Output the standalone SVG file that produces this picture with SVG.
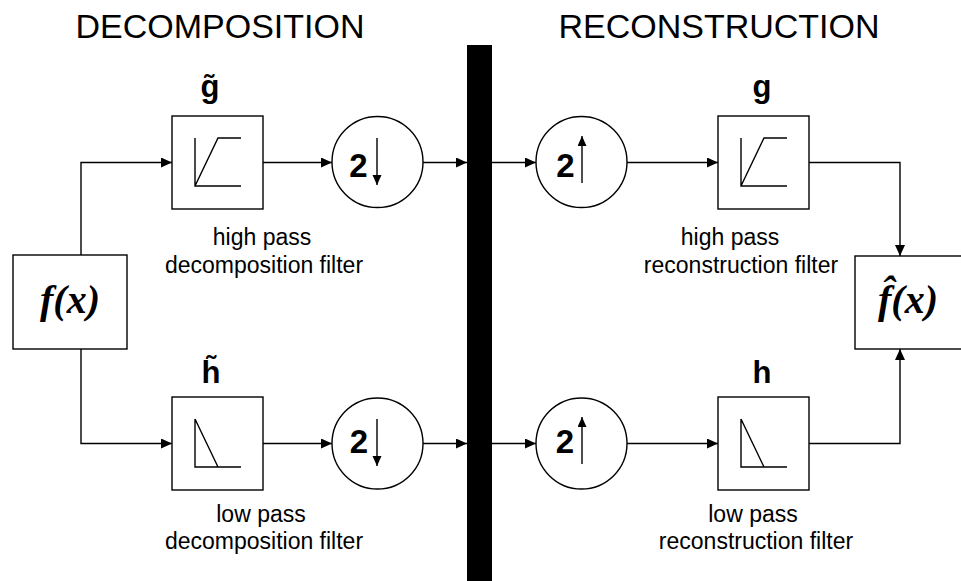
<svg xmlns="http://www.w3.org/2000/svg" width="961" height="581" viewBox="0 0 961 581">
<defs>
<marker id="ah" markerWidth="11" markerHeight="10" refX="11" refY="5" orient="auto" markerUnits="userSpaceOnUse">
<path d="M0,0 L11,5 L0,10 Z" fill="#000"/>
</marker>
<marker id="sa" markerWidth="10" markerHeight="10" refX="10" refY="4.5" orient="auto" markerUnits="userSpaceOnUse">
<path d="M0,0 L10,4.5 L0,9 Z" fill="#000"/>
</marker>
<style>
.box{fill:#fff;stroke:#000;stroke-width:1.4}
.icon{fill:none;stroke:#000;stroke-width:1.4}
.conn{fill:none;stroke:#000;stroke-width:1.4}
.title{font-family:"Liberation Sans",Arial,sans-serif;font-size:34px;text-anchor:middle;fill:#000}
.lbl{font-family:"Liberation Sans",Arial,sans-serif;font-size:23px;text-anchor:middle;fill:#000}
.sym{font-family:"Liberation Sans",Arial,sans-serif;font-size:31px;font-weight:bold;text-anchor:middle;fill:#000}
.two{font-family:"Liberation Sans",Arial,sans-serif;font-size:33px;font-weight:bold;text-anchor:middle;fill:#000}
.fx{font-family:"Liberation Serif","Times New Roman",serif;font-size:40px;font-weight:bold;font-style:italic;text-anchor:middle;fill:#000}
</style>
</defs>
<rect width="961" height="581" fill="#fff"/>

<text class="title" x="220" y="38">DECOMPOSITION</text>
<text class="title" x="719" y="38">RECONSTRUCTION</text>

<rect id="barrier" x="467" y="45" width="25" height="540" fill="#000"/>

<g id="connectors">
<path class="conn" d="M81,255 V162.5 H172" marker-end="url(#ah)"/>
<path class="conn" d="M81,349 V443.5 H172" marker-end="url(#ah)"/>
<path class="conn" d="M263,162.5 H332" marker-end="url(#ah)"/>
<path class="conn" d="M263,443.5 H332" marker-end="url(#ah)"/>
<path class="conn" d="M423,162.5 H467" marker-end="url(#ah)"/>
<path class="conn" d="M423,443.5 H467" marker-end="url(#ah)"/>
<path class="conn" d="M492,162.5 H536" marker-end="url(#ah)"/>
<path class="conn" d="M492,443.5 H536" marker-end="url(#ah)"/>
<path class="conn" d="M627,162.5 H718" marker-end="url(#ah)"/>
<path class="conn" d="M627,443.5 H718" marker-end="url(#ah)"/>
<path class="conn" d="M809,162.5 H900 V256" marker-end="url(#ah)"/>
<path class="conn" d="M809,443.5 H900 V349" marker-end="url(#ah)"/>
</g>

<g id="fx">
<rect class="box" x="13" y="255" width="114" height="94"/>
<text class="fx" x="70" y="313">f(x)</text>
</g>

<g id="g_tilde">
<rect class="box" x="172" y="116" width="91" height="93"/>
<path class="icon" d="M195,138 V186 H241 M195,186 L218,138 H241"/>
<text class="sym" x="210" y="97">g&#x303;</text>
<text class="lbl" x="262" y="245">high pass</text>
<text class="lbl" x="264" y="273">decomposition filter</text>
</g>

<g id="h_tilde">
<rect class="box" x="172" y="397" width="91" height="93"/>
<path class="icon" d="M195,419 V467 H241 M195,419 L218,467"/>
<text class="sym" x="211" y="383">h&#x303;</text>
<text class="lbl" x="261" y="522">low pass</text>
<text class="lbl" x="264" y="549">decomposition filter</text>
</g>

<g id="down_top">
<circle class="box" cx="377.5" cy="162" r="45.5"/>
<text class="two" x="358.5" y="177">2</text>
<line class="conn" x1="377" y1="138" x2="377" y2="185" marker-end="url(#sa)"/>
</g>

<g id="down_bottom">
<circle class="box" cx="377.5" cy="443.5" r="45.5"/>
<text class="two" x="359" y="453">2</text>
<line class="conn" x1="377" y1="419" x2="377" y2="466" marker-end="url(#sa)"/>
</g>

<g id="up_top">
<circle class="box" cx="581.5" cy="162" r="45.5"/>
<text class="two" x="565.5" y="177">2</text>
<line class="conn" x1="582" y1="183" x2="582" y2="136" marker-end="url(#sa)"/>
</g>

<g id="up_bottom">
<circle class="box" cx="581.5" cy="443.5" r="45.5"/>
<text class="two" x="565" y="453">2</text>
<line class="conn" x1="582" y1="464" x2="582" y2="417" marker-end="url(#sa)"/>
</g>

<g id="g">
<rect class="box" x="718" y="116" width="91" height="93"/>
<path class="icon" d="M741,138 V186 H787 M741,186 L764,138 H787"/>
<text class="sym" x="762" y="97">g</text>
<text class="lbl" x="730" y="245">high pass</text>
<text class="lbl" x="741" y="273">reconstruction filter</text>
</g>

<g id="h">
<rect class="box" x="718" y="397" width="91" height="93"/>
<path class="icon" d="M741,419 V467 H787 M741,419 L764,467"/>
<text class="sym" x="762" y="383">h</text>
<text class="lbl" x="753" y="522">low pass</text>
<text class="lbl" x="756" y="549">reconstruction filter</text>
</g>

<g id="fx_hat">
<rect class="box" x="855" y="256" width="120" height="93"/>
<text class="fx" x="908" y="313">f&#x302;(x)</text>
</g>
</svg>
